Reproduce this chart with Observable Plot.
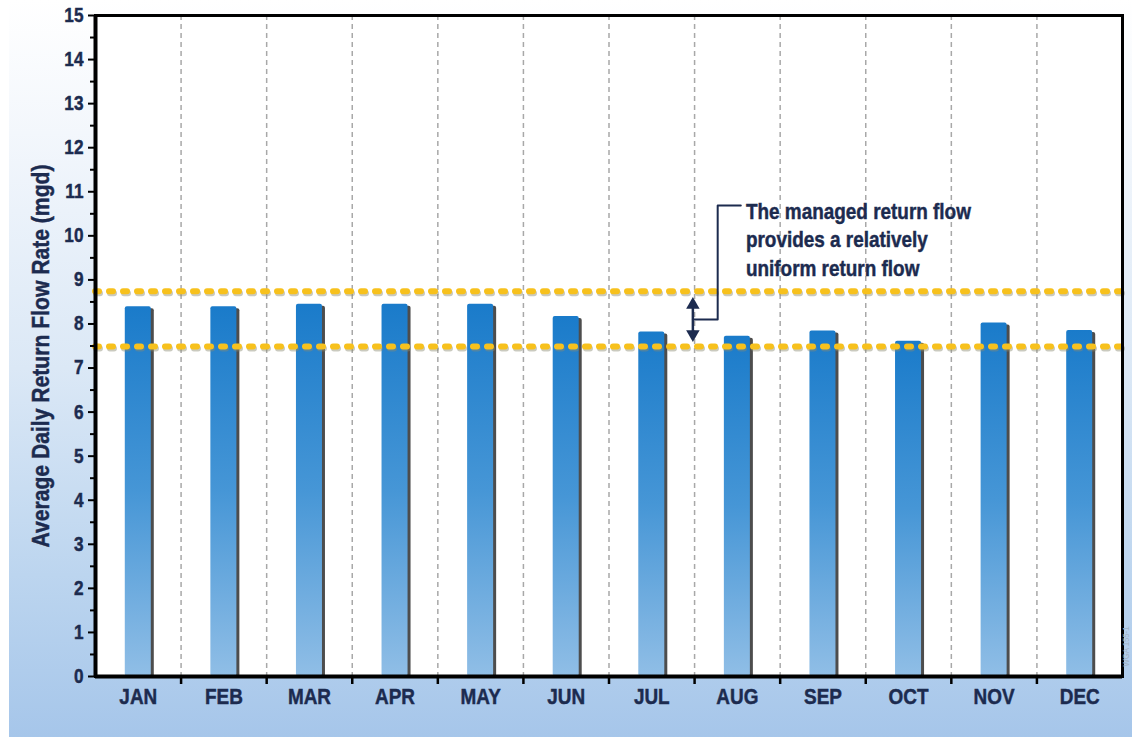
<!DOCTYPE html>
<html>
<head>
<meta charset="utf-8">
<script src="https://cdn.jsdelivr.net/npm/d3@7"></script>
<script src="https://cdn.jsdelivr.net/npm/@observablehq/plot@0.6"></script>
<style>
  html, body { margin: 0; padding: 0; background: #ffffff; }
  #wrap { position: relative; width: 1132px; height: 740px; overflow: hidden; }
  #bg { position: absolute; left: 9px; top: 0; width: 1123px; height: 737px;
        background: linear-gradient(to bottom, #ffffff 0%, #f3f7fc 18%, #dbe8f6 50%, #bcd5ef 78%, #a6c6ea 100%); }
  #chart { position: absolute; left: 0; top: 0; }
</style>
</head>
<body>
<div id="wrap"><div id="bg"></div><div id="chart"></div></div>
<script>
// ---- data ----
const months = ["JAN","FEB","MAR","APR","MAY","JUN","JUL","AUG","SEP","OCT","NOV","DEC"];
const flows = [8.39, 8.39, 8.45, 8.45, 8.45, 8.17, 7.82, 7.72, 7.84, 7.61, 8.02, 7.85];
const bandLimits = [7.49, 8.74];           // yellow dashed lines (mgd)
const yTicks = d3.range(0, 16, 1);
const yMinorTicks = d3.range(0.5, 15, 1);
const yLabel = "Average Daily Return Flow Rate (mgd)";
const noteText = ["The managed return flow", "provides a relatively", "uniform return flow"];
const arrowX = 6.98;                        // month-index position of the double arrow (JUL/AUG)
const arrowEnds = [8.61, 7.59];
const connectorX = [6.98, 7.27, 7.27, 7.54];
const connectorY = [8.10, 8.10, 10.69, 10.69];
const noteX = 7.6, noteY = 10.85;
const watermark = "WGA 155-1";

// ---- derived tables ----
const data = months.map((m, i) => ({month: m, i, flow: flows[i]}));
const monthCenters = months.map((m, i) => i + 0.5);
const boundaries = d3.range(1, months.length);
const connector = connectorX.map((x, k) => ({x, y: connectorY[k]}));
const halfBar = 0.152;

const navy = "#1c2b4f";
const font = "'Liberation Sans', Arial, sans-serif";

const defs = () => {
  const g = document.createElementNS("http://www.w3.org/2000/svg", "defs");
  g.innerHTML = `
    <linearGradient id="barGrad" x1="0" y1="0" x2="0" y2="1">
      <stop offset="0%" stop-color="#1a7bca"/>
      <stop offset="50%" stop-color="#4696d6"/>
      <stop offset="100%" stop-color="#90bee6"/>
    </linearGradient>`;
  return g;
};

const chart = Plot.plot({
  width: 1132,
  height: 740,
  marginLeft: 95,
  marginRight: 10,
  marginTop: 15,
  marginBottom: 64,
  style: {background: "transparent", fontFamily: font, fontWeight: "bold"},
  x: {domain: [0, 12], axis: null},
  y: {domain: [0, 15], axis: null},
  marks: [
    defs,
    Plot.frame({fill: "white", stroke: "none"}),
    Plot.ruleX(boundaries, {stroke: "#a8a8a8", strokeWidth: 1.5, strokeDasharray: "5,4"}),
    // bar shadows
    Plot.rectY(data, {x1: d => d.i + 0.5 - halfBar, x2: d => d.i + 0.5 + halfBar, y: "flow",
      fill: "#111", fillOpacity: 0.75, dx: 3, dy: 2, rx: 2}),
    // bars
    Plot.rectY(data, {x1: d => d.i + 0.5 - halfBar, x2: d => d.i + 0.5 + halfBar, y: "flow",
      fill: "url(#barGrad)", rx: 2}),
    // yellow band lines: shadow then line
    Plot.ruleY(bandLimits, {stroke: "#8a8a70", strokeOpacity: 0.45, strokeWidth: 6, dy: 2, dx: 1,
      strokeDasharray: "4,10", strokeLinecap: "round"}),
    Plot.ruleY(bandLimits, {stroke: "#f7c11d", strokeWidth: 6,
      strokeDasharray: "4,10", strokeLinecap: "round"}),
    // double arrow
    Plot.ruleX([arrowX], {y1: arrowEnds[0], y2: arrowEnds[1], stroke: navy, strokeWidth: 2.5,
      insetTop: 6, insetBottom: 6}),
    Plot.dot([arrowEnds[0]], {x: () => arrowX, y: d => d, symbol: "triangle", r: 5, fill: navy,
      stroke: "none", dy: 7.8}),
    Plot.dot([arrowEnds[1]], {x: () => arrowX, y: d => d, symbol: "triangle", r: 5, fill: navy,
      stroke: "none", dy: -7.8, rotate: 180}),
    // connector
    Plot.line(connector, {x: "x", y: "y", stroke: navy, strokeWidth: 2, curve: "linear"}),
    // annotation text
    Plot.text([noteText.join("\n")], {x: () => noteX, y: () => noteY, textAnchor: "start",
      lineAnchor: "top", lineHeight: 1.3, fontSize: 22, fill: navy, fontWeight: "bold"}),
    // axes
    Plot.axisY({ticks: yTicks, tickSize: 7, tickPadding: 5, strokeWidth: 2, stroke: "black",
      fill: navy, fontSize: 20, label: null}),
    Plot.axisY({ticks: yMinorTicks, tickSize: 5, strokeWidth: 2, stroke: "black",
      tickFormat: () => "", label: null}),
    Plot.axisX({ticks: boundaries, tickSize: 8, strokeWidth: 2.5, stroke: "black",
      tickFormat: () => "", label: null}),
    Plot.axisX({ticks: monthCenters, tickSize: 0, tickPadding: 12, fill: navy, fontSize: 22,
      tickFormat: d => months[Math.floor(d)], label: null}),
    // frame and thick axis lines
    Plot.frame({stroke: "black", strokeWidth: 3}),
    Plot.ruleX([0], {stroke: "black", strokeWidth: 4}),
    Plot.ruleY([0], {stroke: "black", strokeWidth: 4}),
    // y label
    Plot.text([yLabel], {frameAnchor: "left", textAnchor: "middle", rotate: -90, dx: -54, dy: 10,
      fontSize: 23, fill: navy, fontWeight: "bold"}),
    // watermark
    Plot.text([watermark], {frameAnchor: "bottom-right", textAnchor: "middle", rotate: -90,
      dx: 6, dy: -30, fontSize: 9, fill: "#9fb0c4", fontWeight: "normal"})
  ]
});
document.getElementById("chart").appendChild(chart);

// condensed heavy look: compress glyphs horizontally (the original uses a condensed bold face)
const ratio = 0.86;
chart.querySelectorAll("text").forEach(t => {
  const spans = t.querySelectorAll("tspan");
  const targets = spans.length ? [...spans] : [t];
  const isLabel = t.textContent === yLabel;
  const isMark = t.textContent === watermark;
  targets.forEach(s => {
    const L = s.getComputedTextLength();
    if (L > 0) {
      s.setAttribute("textLength", isLabel ? 383 : L * ratio);
      s.setAttribute("lengthAdjust", "spacingAndGlyphs");
    }
  });
  if (!isMark) {
    t.setAttribute("stroke", navy);
    t.setAttribute("stroke-width", "0.45");
    t.setAttribute("paint-order", "fill");
  }
});
</script>
</body>
</html>
